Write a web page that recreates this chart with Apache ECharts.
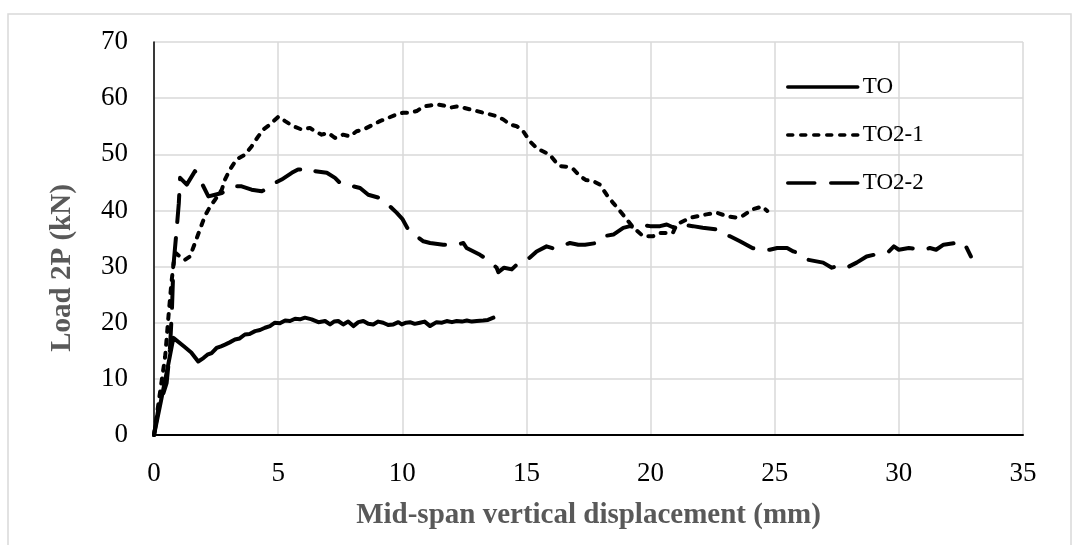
<!DOCTYPE html>
<html>
<head>
<meta charset="utf-8">
<script src="https://cdn.jsdelivr.net/npm/echarts@6/dist/echarts.min.js"></script>
<style>
html,body{margin:0;padding:0;background:#fff;}
#c{width:1079px;height:545px;}
</style>
</head>
<body>
<div id="c"></div>
<script>
// ---- data (displacement mm, load kN) ----
const seriesNames = ['TO', 'TO2-1', 'TO2-2'];
const xTicks = [0, 5, 10, 15, 20, 25, 30, 35];
const yTicks = [0, 10, 20, 30, 40, 50, 60, 70];

const dataTO = [[0,0],[0.3,6.5],[0.55,12],[0.78,17.3],[1.2,15.8],[1.5,14.7],[1.78,13.1],[1.99,13.7],[2.15,14.3],[2.32,14.6],[2.52,15.5],[2.7,15.8],[2.86,16.1],[3.05,16.5],[3.26,17.0],[3.45,17.2],[3.66,17.9],[3.85,18.0],[4.07,18.5],[4.27,18.7],[4.47,19.1],[4.67,19.4],[4.87,20.0],[5.07,19.9],[5.28,20.4],[5.48,20.3],[5.68,20.7],[5.88,20.6],[6.08,20.9],[6.35,20.6],[6.62,20.1],[6.89,20.3],[7.09,19.7],[7.25,20.2],[7.42,20.3],[7.62,19.7],[7.82,20.2],[8.03,19.4],[8.23,20.1],[8.43,20.3],[8.63,19.8],[8.83,19.7],[9.03,20.2],[9.23,20.0],[9.43,19.6],[9.64,19.7],[9.84,20.1],[9.98,19.7],[10.15,20.0],[10.31,20.1],[10.5,19.8],[10.71,20.0],[10.9,20.2],[11.12,19.4],[11.38,20.1],[11.6,20.0],[11.79,20.3],[12.0,20.1],[12.19,20.3],[12.4,20.2],[12.6,20.4],[12.8,20.2],[13.0,20.3],[13.26,20.4],[13.45,20.5],[13.67,20.9]];

const dataTO21 = [[0,0],[0.24,7.5],[0.45,14],[0.58,21],[0.7,27],[0.8,31],[0.88,32.4],[1.1,31.6],[1.25,31.2],[1.45,31.8],[1.65,34.2],[1.85,36.6],[2.05,39.0],[2.26,40.7],[2.46,41.9],[2.73,43.7],[2.86,45.5],[3.06,47.3],[3.33,49.1],[3.66,49.9],[3.93,51.4],[4.2,53.2],[4.4,54.4],[4.67,55.3],[5.01,56.7],[5.28,55.9],[5.61,55.0],[5.95,54.4],[6.28,54.7],[6.48,54.1],[6.75,53.5],[7.02,53.8],[7.29,52.9],[7.62,53.5],[7.89,53.2],[8.16,54.1],[8.43,54.4],[8.83,55.3],[9.1,55.9],[9.44,56.5],[9.77,57.1],[10.04,57.4],[10.31,57.4],[10.58,57.7],[10.85,58.5],[11.12,58.7],[11.39,58.9],[11.65,58.7],[11.92,58.3],[12.19,58.5],[12.46,58.3],[12.73,58.0],[13.0,57.7],[13.26,57.4],[13.53,57.1],[13.8,56.8],[14.07,56.2],[14.34,55.3],[14.61,55.0],[14.87,54.1],[15.14,52.3],[15.41,51.1],[15.68,50.5],[15.95,49.9],[16.2,48.5],[16.35,47.9],[16.6,47.8],[16.9,47.3],[17.16,46.1],[17.4,45.4],[17.7,45.2],[17.96,44.6],[18.23,42.8],[18.5,41.3],[18.77,39.9],[19.04,38.4],[19.3,37.0],[19.7,35.4],[20.1,35.4],[20.4,36.0],[20.9,36.0],[21.05,37.5],[21.6,38.7],[22.25,39.3],[22.66,39.6],[23.06,39.0],[23.46,38.7],[23.7,39.0],[24.1,40.2],[24.5,40.7],[24.7,39.9]];

const dataTO22 = [[0,0],[0.17,4.5],[0.51,9.3],[0.64,15.2],[0.72,22],[0.78,30],[0.9,36],[1.0,41.3],[1.05,45.8],[1.11,45.9],[1.32,44.6],[1.65,47.0],[1.92,44.9],[2.19,42.5],[2.46,42.8],[2.73,43.1],[3.0,43.8],[3.26,44.3],[3.53,44.3],[3.93,43.7],[4.34,43.4],[4.6,44.0],[4.87,44.9],[5.14,45.5],[5.55,46.7],[5.8,47.3],[6.08,47.3],[6.3,47.5],[6.48,47.0],[6.96,46.7],[7.29,45.8],[7.49,44.9],[7.69,44.9],[8.03,44.3],[8.3,44.0],[8.63,42.8],[9.1,42.2],[9.44,41.0],[9.77,39.6],[10.0,38.5],[10.24,36.6],[10.58,35.4],[10.85,34.5],[11.12,34.2],[11.65,33.9],[12.19,33.9],[12.46,34.2],[12.59,33.3],[13.13,32.1],[13.53,30.9],[13.8,29.8],[13.87,29.0],[14.1,29.8],[14.41,29.5],[14.74,30.9],[15.14,31.6],[15.41,32.7],[15.81,33.6],[16.1,33.2],[16.35,33.6],[16.75,34.2],[17.09,33.9],[17.36,33.9],[17.83,34.2],[18.1,35.4],[18.5,35.7],[18.9,36.9],[19.17,37.2],[19.44,36.9],[19.7,37.4],[19.98,37.2],[20.38,37.2],[20.65,37.5],[20.9,37.0],[21.2,37.5],[21.7,37.2],[22.1,36.9],[22.66,36.6],[22.9,35.7],[23.2,35.4],[23.6,34.5],[24.1,33.3],[24.4,33.0],[24.8,33.0],[25.1,33.3],[25.5,33.3],[25.75,32.7],[26.0,32.4],[26.35,31.2],[26.95,30.7],[27.3,29.8],[27.55,30.1],[27.9,29.8],[28.3,30.7],[28.7,31.8],[29.0,32.1],[29.6,32.7],[29.8,33.6],[30.0,33.0],[30.4,33.3],[31.0,33.0],[31.25,33.3],[31.5,33.0],[31.8,33.9],[32.3,34.2],[32.5,34.5],[32.7,33.6],[32.9,31.8]];

const xTitle = 'Mid-span vertical displacement (mm)';
const yTitle = 'Load 2P (kN)';

const FONT = '"Liberation Serif", "Times New Roman", serif';
const chart = echarts.init(document.getElementById('c'), null, {renderer: 'canvas'});

const dashes = ['solid', [5, 8], [27, 16]];
const LW = 4;

function mkSeries(i, data) {
  return {
    name: seriesNames[i], type: 'line', data: data, symbol: 'none', smooth: false,
    lineStyle: {color: '#000', width: LW, type: dashes[i], cap: 'round', join: 'round'},
    itemStyle: {color: '#000'},
    animation: false
  };
}

chart.setOption({
  animation: false,
  backgroundColor: '#fff',
  grid: {left: 154, right: 56, top: 42, bottom: 110, containLabel: false},
  xAxis: {
    type: 'value', min: xTicks[0], max: xTicks[xTicks.length - 1], interval: 5,
    axisLine: {show: true, onZero: false, lineStyle: {color: '#000', width: 2}},
    axisTick: {show: false},
    axisLabel: {color: '#000', fontFamily: FONT, fontSize: 27, margin: 25},
    splitLine: {show: true, lineStyle: {color: '#d9d9d9', width: 1.5}},
    name: xTitle, nameLocation: 'middle', nameGap: 66,
    nameTextStyle: {color: '#595959', fontFamily: FONT, fontSize: 29, fontWeight: 'bold'}
  },
  yAxis: {
    type: 'value', min: yTicks[0], max: yTicks[yTicks.length - 1], interval: 10,
    axisLine: {show: true, lineStyle: {color: '#000', width: 1.5}},
    axisTick: {show: false},
    axisLabel: {color: '#000', fontFamily: FONT, fontSize: 27, margin: 26},
    splitLine: {show: true, lineStyle: {color: '#d9d9d9', width: 1.5}}
  },
  legend: {
    data: seriesNames.map((n, i) => ({
      name: n,
      lineStyle: {color: '#000', width: 3.5, type: dashes[i], cap: 'round'},
      itemStyle: {color: 'rgba(0,0,0,0)', opacity: 0, borderWidth: 0}
    })),
    orient: 'vertical', left: 781, top: 69,
    itemWidth: 70, itemHeight: 14, itemGap: 22,
    itemStyle: {color: 'rgba(0,0,0,0)', opacity: 0, borderWidth: 0},
    textStyle: {color: '#000', fontFamily: FONT, fontSize: 23, lineHeight: 26}
  },
  graphic: [
    {type: 'rect', shape: {x: 8, y: 14, width: 1063, height: 560}, style: {fill: 'none', stroke: '#d9d9d9', lineWidth: 1.5}, silent: true, z: -10},
    {type: 'text', x: 63, y: 268, rotation: Math.PI / 2,
     style: {text: yTitle, fill: '#595959', font: 'bold 29px ' + FONT, align: 'center', verticalAlign: 'middle'}}
  ],
  series: [
    mkSeries(0, dataTO),
    mkSeries(1, dataTO21),
    mkSeries(2, dataTO22)
  ]
});
</script>
</body>
</html>
